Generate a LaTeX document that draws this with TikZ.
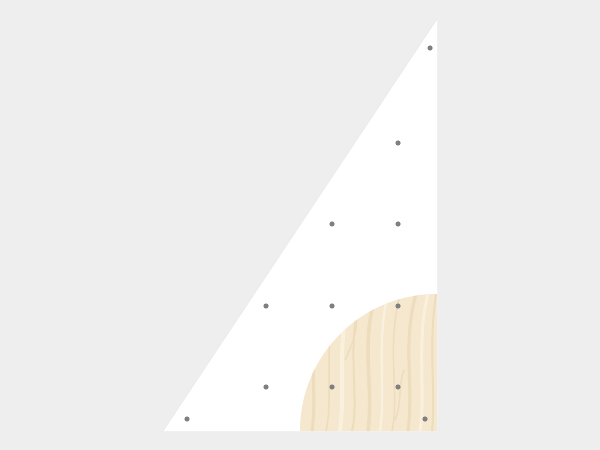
\documentclass[tikz,border=0pt]{standalone}
\definecolor{bg}{RGB}{238,238,238}
\definecolor{wood}{RGB}{245,232,206}
\definecolor{grain}{RGB}{238,221,188}
\definecolor{grainlight}{RGB}{249,240,222}
\definecolor{hole}{RGB}{128,128,128}
\begin{document}
\begin{tikzpicture}[x=0.2mm,y=-0.2mm]
  \useasboundingbox (0,0) rectangle (600,450);
  \fill[bg] (0,0) rectangle (600,450); %背景
  \fill[white] (163,431) -- (437,431) -- (437,19) -- cycle; %三角形
  \draw[black!8, line width=0.15mm] (163,431) -- (437,19); %斜辺

  %wood
  \begin{scope}
    \clip (437,431) circle[radius=137];
    \clip (300,294) rectangle (437,431);
    \fill[wood] (300,294) rectangle (437,431);
    \draw[grain, line width=0.6mm] (312,431) .. controls (318,390) and (306,350) .. (322,300); %木目
    \draw[grain, line width=0.3mm] (326,431) .. controls (334,395) and (322,345) .. (338,294);
    \draw[grainlight, line width=0.8mm] (340,431) .. controls (346,380) and (336,350) .. (350,294);
    \draw[grain, line width=0.4mm] (352,431) .. controls (360,400) and (345,340) .. (362,294);
    \draw[grain, line width=0.7mm] (368,431) .. controls (374,385) and (360,345) .. (376,294);
    \draw[grainlight, line width=0.5mm] (380,431) .. controls (386,390) and (376,340) .. (388,294);
    \draw[grain, line width=0.3mm] (392,431) .. controls (400,395) and (386,350) .. (400,294);
    \draw[grain, line width=0.6mm] (408,431) .. controls (414,380) and (402,345) .. (416,294);
    \draw[grainlight, line width=0.6mm] (420,431) .. controls (426,395) and (416,340) .. (428,294);
    \draw[grain, line width=0.4mm] (432,431) .. controls (436,390) and (428,350) .. (436,294);
    \draw[grain, line width=0.3mm] (345,360) .. controls (352,345) and (358,330) .. (356,318);
    \draw[grain, line width=0.3mm] (395,420) .. controls (402,405) and (398,385) .. (404,370);
  \end{scope}

  %穴
  \fill[hole] (430,48) circle[radius=2.6];
  \fill[hole] (398,143) circle[radius=2.6];
  \fill[hole] (332,224) circle[radius=2.6];
  \fill[hole] (398,224) circle[radius=2.6];
  \fill[hole] (266,306) circle[radius=2.6];
  \fill[hole] (332,306) circle[radius=2.6];
  \fill[hole] (398,306) circle[radius=2.6];
  \fill[hole] (266,387) circle[radius=2.6];
  \fill[hole] (332,387) circle[radius=2.6];
  \fill[hole] (398,387) circle[radius=2.6];
  \fill[hole] (187,419) circle[radius=2.6];
  \fill[hole] (425,419) circle[radius=2.6];
\end{tikzpicture}
\end{document}
